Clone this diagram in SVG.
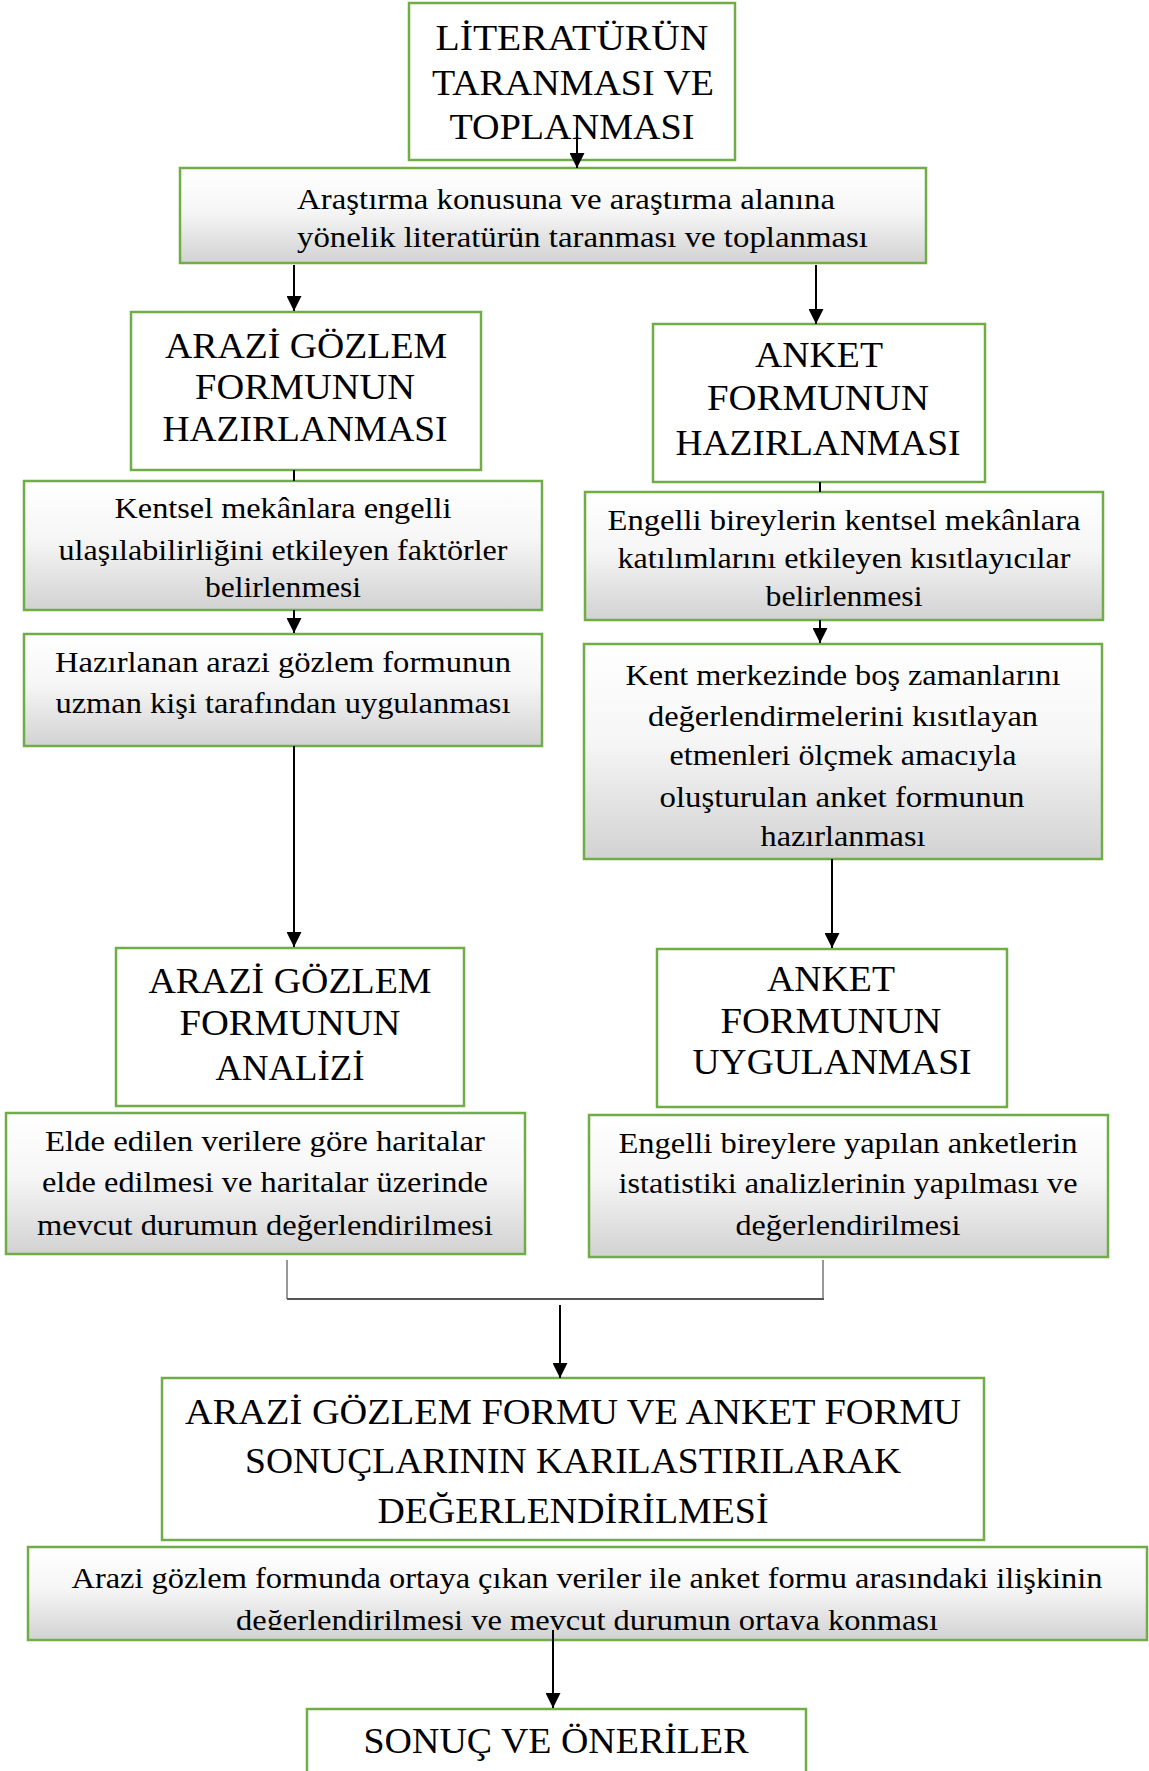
<svg xmlns="http://www.w3.org/2000/svg" width="1149" height="1771" viewBox="0 0 1149 1771">
<defs>
<linearGradient id="g" x1="0" y1="0" x2="0" y2="1">
<stop offset="0" stop-color="#ffffff"/>
<stop offset="0.45" stop-color="#f6f6f6"/>
<stop offset="1" stop-color="#d2d2d2"/>
</linearGradient>
<marker id="ah" markerWidth="15" markerHeight="15" refX="15" refY="7.5" orient="auto" markerUnits="userSpaceOnUse" viewBox="0 0 15 15">
<path d="M0,0 L15,7.5 L0,15 Z" fill="#000"/>
</marker>
<clipPath id="c14"><rect x="28" y="1547" width="1119" height="83"/></clipPath>
</defs>
<style>
.b{fill:#fff;stroke:#70ad47;stroke-width:2.5}
.gb{fill:url(#g);stroke:#70ad47;stroke-width:2.5}
.h{font-family:'Liberation Serif','Times New Roman',serif;font-size:36px;fill:#000;text-anchor:middle}
.t{font-family:'Liberation Serif','Times New Roman',serif;font-size:30px;fill:#000;text-anchor:middle}
.l{stroke:#000;stroke-width:2;fill:none}
</style>
<g id="n1">
<rect class="b" x="409" y="3" width="326" height="157"/>
<text class="h" x="572" y="50" textLength="273" lengthAdjust="spacingAndGlyphs">LİTERATÜRÜN</text>
<text class="h" x="573" y="95" textLength="282" lengthAdjust="spacingAndGlyphs">TARANMASI VE</text>
<text class="h" x="572" y="139" textLength="245" lengthAdjust="spacingAndGlyphs">TOPLANMASI</text>
</g>
<g id="n2">
<rect class="gb" x="180" y="168" width="746" height="95"/>
<text class="t" style="text-anchor:start" x="297" y="209" textLength="538" lengthAdjust="spacingAndGlyphs">Araştırma konusuna ve araştırma alanına</text>
<text class="t" style="text-anchor:start" x="297" y="247" textLength="571" lengthAdjust="spacingAndGlyphs">yönelik literatürün taranması ve toplanması</text>
</g>
<g id="n3">
<rect class="b" x="131" y="312" width="350" height="158"/>
<text class="h" x="306" y="358" textLength="282" lengthAdjust="spacingAndGlyphs">ARAZİ GÖZLEM</text>
<text class="h" x="305" y="399" textLength="220" lengthAdjust="spacingAndGlyphs">FORMUNUN</text>
<text class="h" x="305" y="441" textLength="285" lengthAdjust="spacingAndGlyphs">HAZIRLANMASI</text>
</g>
<g id="n4">
<rect class="b" x="653" y="324" width="332" height="158"/>
<text class="h" x="819" y="367" textLength="128" lengthAdjust="spacingAndGlyphs">ANKET</text>
<text class="h" x="818" y="410" textLength="222" lengthAdjust="spacingAndGlyphs">FORMUNUN</text>
<text class="h" x="818" y="455" textLength="285" lengthAdjust="spacingAndGlyphs">HAZIRLANMASI</text>
</g>
<g id="n5">
<rect class="gb" x="24" y="481" width="518" height="129"/>
<text class="t" x="283" y="518" textLength="337" lengthAdjust="spacingAndGlyphs">Kentsel mekânlara engelli</text>
<text class="t" x="283" y="560" textLength="449" lengthAdjust="spacingAndGlyphs">ulaşılabilirliğini etkileyen faktörler</text>
<text class="t" x="283" y="597" textLength="156" lengthAdjust="spacingAndGlyphs">belirlenmesi</text>
</g>
<g id="n6">
<rect class="gb" x="585" y="492" width="518" height="128"/>
<text class="t" x="844" y="530" textLength="473" lengthAdjust="spacingAndGlyphs">Engelli bireylerin kentsel mekânlara</text>
<text class="t" x="844" y="568" textLength="453" lengthAdjust="spacingAndGlyphs">katılımlarını etkileyen kısıtlayıcılar</text>
<text class="t" x="844" y="606" textLength="157" lengthAdjust="spacingAndGlyphs">belirlenmesi</text>
</g>
<g id="n7">
<rect class="gb" x="24" y="634" width="518" height="112"/>
<text class="t" x="283" y="672" textLength="456" lengthAdjust="spacingAndGlyphs">Hazırlanan arazi gözlem formunun</text>
<text class="t" x="283" y="713" textLength="455" lengthAdjust="spacingAndGlyphs">uzman kişi tarafından uygulanması</text>
</g>
<g id="n8">
<rect class="gb" x="584" y="644" width="518" height="215"/>
<text class="t" x="843" y="685" textLength="435" lengthAdjust="spacingAndGlyphs">Kent merkezinde boş zamanlarını</text>
<text class="t" x="843" y="726" textLength="390" lengthAdjust="spacingAndGlyphs">değerlendirmelerini kısıtlayan</text>
<text class="t" x="843" y="765" textLength="347" lengthAdjust="spacingAndGlyphs">etmenleri ölçmek amacıyla</text>
<text class="t" x="842" y="807" textLength="365" lengthAdjust="spacingAndGlyphs">oluşturulan anket formunun</text>
<text class="t" x="843" y="846" textLength="165" lengthAdjust="spacingAndGlyphs">hazırlanması</text>
</g>
<g id="n9">
<rect class="b" x="116" y="948" width="348" height="158"/>
<text class="h" x="290" y="993" textLength="283" lengthAdjust="spacingAndGlyphs">ARAZİ GÖZLEM</text>
<text class="h" x="290" y="1035" textLength="221" lengthAdjust="spacingAndGlyphs">FORMUNUN</text>
<text class="h" x="290" y="1080" textLength="149" lengthAdjust="spacingAndGlyphs">ANALİZİ</text>
</g>
<g id="n10">
<rect class="b" x="657" y="949" width="350" height="158"/>
<text class="h" x="831" y="991" textLength="128" lengthAdjust="spacingAndGlyphs">ANKET</text>
<text class="h" x="831" y="1033" textLength="221" lengthAdjust="spacingAndGlyphs">FORMUNUN</text>
<text class="h" x="832" y="1074" textLength="279" lengthAdjust="spacingAndGlyphs">UYGULANMASI</text>
</g>
<g id="n11">
<rect class="gb" x="6" y="1113" width="519" height="141"/>
<text class="t" x="265" y="1151" textLength="440" lengthAdjust="spacingAndGlyphs">Elde edilen verilere göre haritalar</text>
<text class="t" x="265" y="1192" textLength="446" lengthAdjust="spacingAndGlyphs">elde edilmesi ve haritalar üzerinde</text>
<text class="t" x="265" y="1235" textLength="456" lengthAdjust="spacingAndGlyphs">mevcut durumun değerlendirilmesi</text>
</g>
<g id="n12">
<rect class="gb" x="589" y="1115" width="519" height="142"/>
<text class="t" x="848" y="1153" textLength="459" lengthAdjust="spacingAndGlyphs">Engelli bireylere yapılan anketlerin</text>
<text class="t" x="848" y="1193" textLength="459" lengthAdjust="spacingAndGlyphs">istatistiki analizlerinin yapılması ve</text>
<text class="t" x="848" y="1235" textLength="225" lengthAdjust="spacingAndGlyphs">değerlendirilmesi</text>
</g>
<g id="n13">
<rect class="b" x="162" y="1378" width="822" height="162"/>
<text class="h" x="573" y="1424" textLength="776" lengthAdjust="spacingAndGlyphs">ARAZİ GÖZLEM FORMU VE ANKET FORMU</text>
<text class="h" x="573" y="1473" textLength="656" lengthAdjust="spacingAndGlyphs">SONUÇLARININ KARILASTIRILARAK</text>
<text class="h" x="573" y="1523" textLength="391" lengthAdjust="spacingAndGlyphs">DEĞERLENDİRİLMESİ</text>
</g>
<g id="n14">
<rect class="gb" x="28" y="1547" width="1119" height="93"/>
<g clip-path="url(#c14)">
<text class="t" x="587" y="1588" textLength="1031" lengthAdjust="spacingAndGlyphs">Arazi gözlem formunda ortaya çıkan veriler ile anket formu arasındaki ilişkinin</text>
<text class="t" x="587" y="1630" textLength="702" lengthAdjust="spacingAndGlyphs">değerlendirilmesi ve mevcut durumun ortaya konması</text>
</g>
</g>
<g id="n15">
<rect class="b" x="307" y="1709" width="499" height="70"/>
<text class="h" x="556" y="1753" textLength="385" lengthAdjust="spacingAndGlyphs">SONUÇ VE ÖNERİLER</text>
</g>
<g id="connectors">
<line class="l" x1="577" y1="128" x2="577" y2="168" marker-end="url(#ah)"/>
<line class="l" x1="294" y1="265" x2="294" y2="311" marker-end="url(#ah)"/>
<line class="l" x1="816" y1="265" x2="816" y2="324" marker-end="url(#ah)"/>
<line class="l" x1="294" y1="470" x2="294" y2="481"/>
<line class="l" x1="820" y1="482" x2="820" y2="492"/>
<line class="l" x1="294" y1="610" x2="294" y2="633" marker-end="url(#ah)"/>
<line class="l" x1="820" y1="620" x2="820" y2="643" marker-end="url(#ah)"/>
<line class="l" x1="294" y1="746" x2="294" y2="947" marker-end="url(#ah)"/>
<line class="l" x1="832" y1="859" x2="832" y2="948" marker-end="url(#ah)"/>
<path d="M287,1260 V1299 M823,1260 V1299" stroke="#333" stroke-width="1" fill="none"/>
<path d="M287,1299 H824" stroke="#555" stroke-width="2" fill="none"/>
<line class="l" x1="560" y1="1305" x2="560" y2="1378" marker-end="url(#ah)"/>
<line class="l" x1="553" y1="1630" x2="553" y2="1708" marker-end="url(#ah)"/>
</g>
</svg>
